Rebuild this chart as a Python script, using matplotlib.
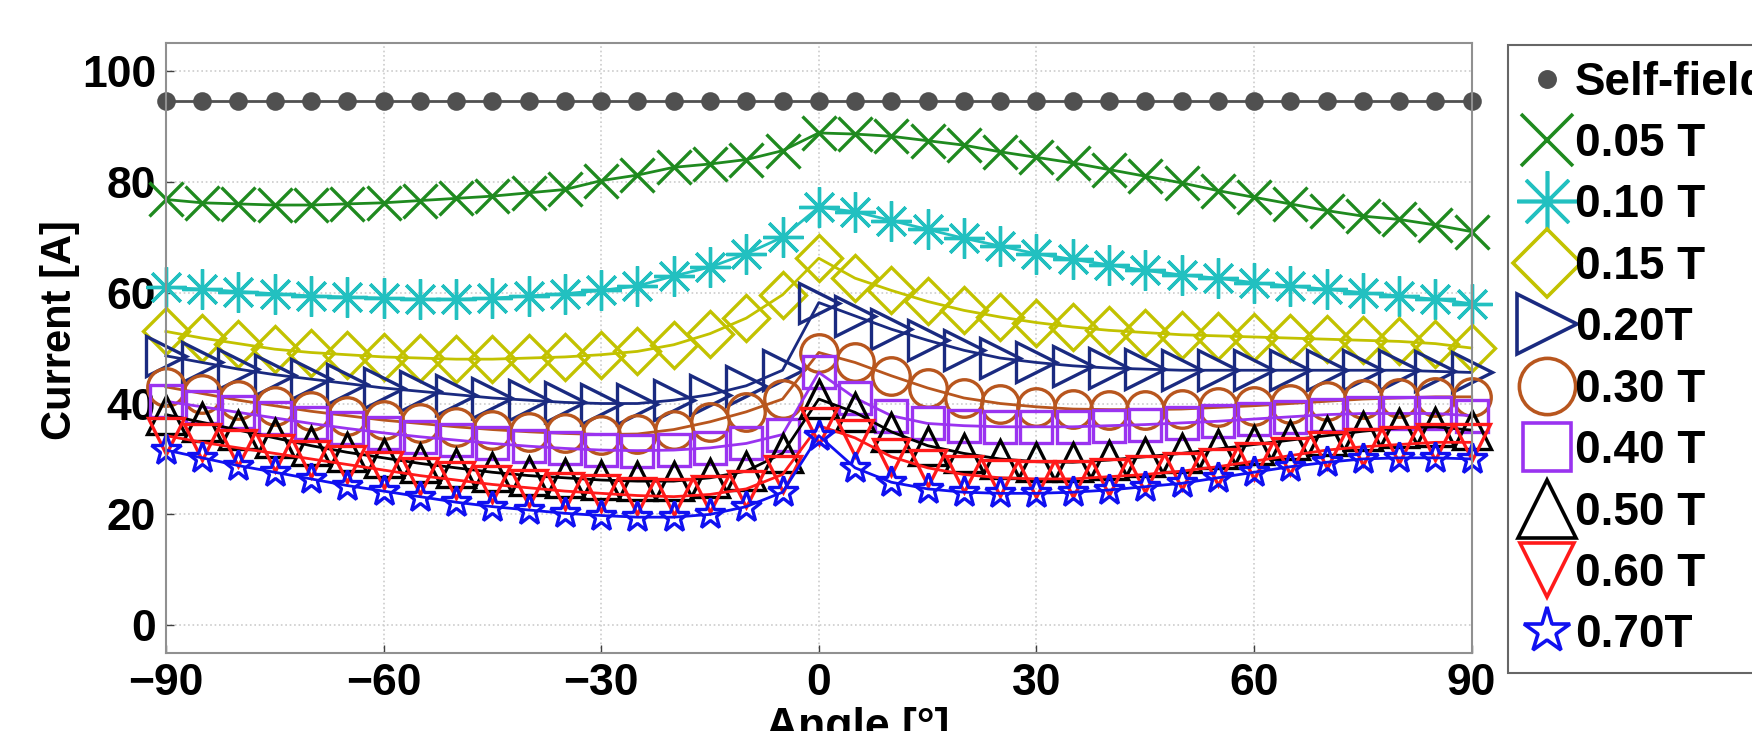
import numpy as np
import matplotlib
matplotlib.use('Agg')
import matplotlib.pyplot as plt
from matplotlib.lines import Line2D

plt.rcParams['font.family'] = ['Liberation Sans', 'DejaVu Sans']
plt.rcParams['font.weight'] = 'bold'

# --- data ---
angle = np.arange(-90, 91, 5)

self_field = [94.5] * 37
i_005 = [76.8, 76.2, 76.0, 75.8, 75.8, 76.0, 76.2, 76.6, 77.0, 77.4, 78.0, 78.6, 80.2, 81.2, 82.6, 83.2, 84.0, 85.6, 88.8,
         88.6, 88.2, 87.4, 86.6, 85.4, 84.4, 83.4, 82.2, 81.0, 79.8, 78.4, 77.2, 76.0, 74.8, 73.8, 73.2, 72.2, 71.0]
i_010 = [61.0, 60.6, 60.2, 59.8, 59.4, 59.2, 59.0, 58.8, 58.8, 59.0, 59.4, 59.8, 60.4, 61.2, 63.0, 64.6, 67.0, 70.0, 75.4,
         74.6, 73.0, 71.4, 69.8, 68.4, 67.0, 66.0, 65.0, 64.0, 63.2, 62.6, 61.8, 61.2, 60.6, 60.0, 59.4, 58.8, 58.0]
i_015 = [53.0, 51.8, 50.8, 49.8, 49.2, 48.8, 48.4, 48.2, 48.0, 48.0, 48.2, 48.4, 48.8, 49.4, 50.6, 52.6, 55.4, 59.6, 66.2,
         62.6, 60.4, 58.4, 56.8, 55.6, 54.6, 53.8, 53.2, 52.8, 52.4, 52.2, 52.0, 51.8, 51.6, 51.4, 51.2, 50.8, 50.0]
i_020 = [48.6, 47.4, 46.2, 45.2, 44.4, 43.6, 42.8, 42.2, 41.6, 41.0, 40.6, 40.2, 40.0, 40.0, 40.6, 41.6, 43.2, 46.0, 58.2,
         55.8, 53.4, 51.4, 49.6, 48.2, 47.4, 46.8, 46.4, 46.2, 46.0, 46.0, 46.0, 46.0, 46.0, 46.0, 46.0, 45.8, 45.6]
i_030 = [43.0, 41.8, 40.6, 39.6, 38.6, 37.8, 37.0, 36.4, 35.8, 35.3, 34.9, 34.6, 34.4, 34.5, 35.3, 36.7, 38.5, 40.8, 49.2,
         47.4, 45.0, 42.8, 41.0, 40.0, 39.4, 39.0, 38.9, 38.9, 39.0, 39.3, 39.6, 40.0, 40.4, 40.8, 41.0, 41.2, 41.2]
i_040 = [40.4, 39.4, 38.4, 37.4, 36.4, 35.5, 34.7, 34.0, 33.4, 32.8, 32.3, 31.9, 31.6, 31.5, 31.6, 32.0, 32.8, 34.4, 45.6,
         41.0, 37.8, 36.4, 36.0, 35.8, 35.8, 35.8, 36.0, 36.2, 36.5, 36.8, 37.2, 37.6, 38.0, 38.2, 38.2, 38.2, 37.8]
i_050 = [38.0, 36.6, 35.2, 33.8, 32.4, 31.2, 30.2, 29.2, 28.4, 27.6, 27.0, 26.6, 26.2, 26.0, 26.0, 26.6, 27.8, 31.0, 40.8,
         38.4, 34.9, 32.4, 31.0, 30.0, 29.5, 29.4, 29.8, 30.4, 31.0, 31.8, 32.6, 33.4, 34.2, 35.0, 35.6, 35.8, 35.2]
i_060 = [34.2, 33.0, 32.0, 31.0, 30.0, 29.0, 28.0, 27.0, 26.2, 25.4, 24.8, 24.2, 23.8, 23.4, 23.2, 23.6, 24.6, 27.2, 36.0,
         33.8, 30.4, 28.4, 27.2, 26.6, 26.4, 26.4, 26.8, 27.2, 27.8, 28.6, 29.6, 30.6, 31.6, 32.2, 32.6, 33.0, 33.0]
i_070 = [31.6, 30.2, 28.8, 27.6, 26.4, 25.2, 24.2, 23.2, 22.2, 21.4, 20.8, 20.2, 19.8, 19.5, 19.5, 20.0, 21.4, 24.0, 34.2,
         28.4, 25.8, 24.6, 24.0, 23.8, 23.8, 24.0, 24.4, 25.0, 25.6, 26.6, 27.6, 28.6, 29.4, 30.0, 30.2, 30.2, 30.0]

labels = ['Self-field', '0.05 T', '0.10 T', '0.15 T', '0.20T', '0.30 T', '0.40 T', '0.50 T', '0.60 T', '0.70T']
series = [self_field, i_005, i_010, i_015, i_020, i_030, i_040, i_050, i_060, i_070]
colors = ['#505050', '#1f8a1f', '#22c0c0', '#c2c200', '#1a2a80', '#b8561e', '#9a33f0', '#000000', '#ff1a1a', '#1010f0']
markers = ['o', 'x', (8, 2, 0), 'D', '>', 'o', 's', '^', 'v', '*']
msizes = [11, 25, 29, 23, 29, 27, 23, 28, 26, 23]

fig = plt.figure(figsize=(17.52, 7.31), dpi=100)
ax = fig.add_axes([0.0947, 0.1067, 0.7453, 0.8343])

handles = []
for y, c, mk, ms, lab in zip(series, colors, markers, msizes, labels):
    filled = (lab == 'Self-field')
    ax.plot(angle, y, color=c, lw=2, marker=mk, ms=ms,
            mfc=c if filled else 'none', mec=c, mew=2.4, clip_on=False)
    handles.append(Line2D([0], [0], color=c, lw=0, marker=mk,
                          ms=ms * (1.0 if filled else 1.5),
                          mfc=c if filled else 'none', mec=c, mew=2.6))

ax.set_xlim(-90, 90)
ax.set_ylim(-5, 105)
ax.set_xticks([-90, -60, -30, 0, 30, 60, 90])
ax.set_yticks([0, 20, 40, 60, 80, 100])
ax.tick_params(direction='in', length=6, width=1, colors='#404040', labelcolor='black',
               labelsize=32, pad=7)
ax.grid(True, color='#cccccc', linestyle=':', linewidth=1.2)
for s in ax.spines.values():
    s.set_color('#909090')
    s.set_linewidth(1.5)

ax.set_ylabel('Current [A]', fontsize=30, fontweight='bold')
ax.yaxis.set_label_coords(-0.066, 0.53)
ax.set_xlabel('Angle [°]', fontsize=32, fontweight='bold')
ax.xaxis.set_label_coords(0.53, -0.088)

leg = fig.legend(handles=handles, labels=labels, loc='upper left',
                 bbox_to_anchor=(0.861, 0.939), fontsize=33, frameon=True,
                 fancybox=False, edgecolor='#404040', handlelength=1.0,
                 handletextpad=0.1, labelspacing=0.38, borderpad=0.35,
                 borderaxespad=0)
leg.get_frame().set_linewidth(1.5)

fig.savefig('out.png', dpi=100)
